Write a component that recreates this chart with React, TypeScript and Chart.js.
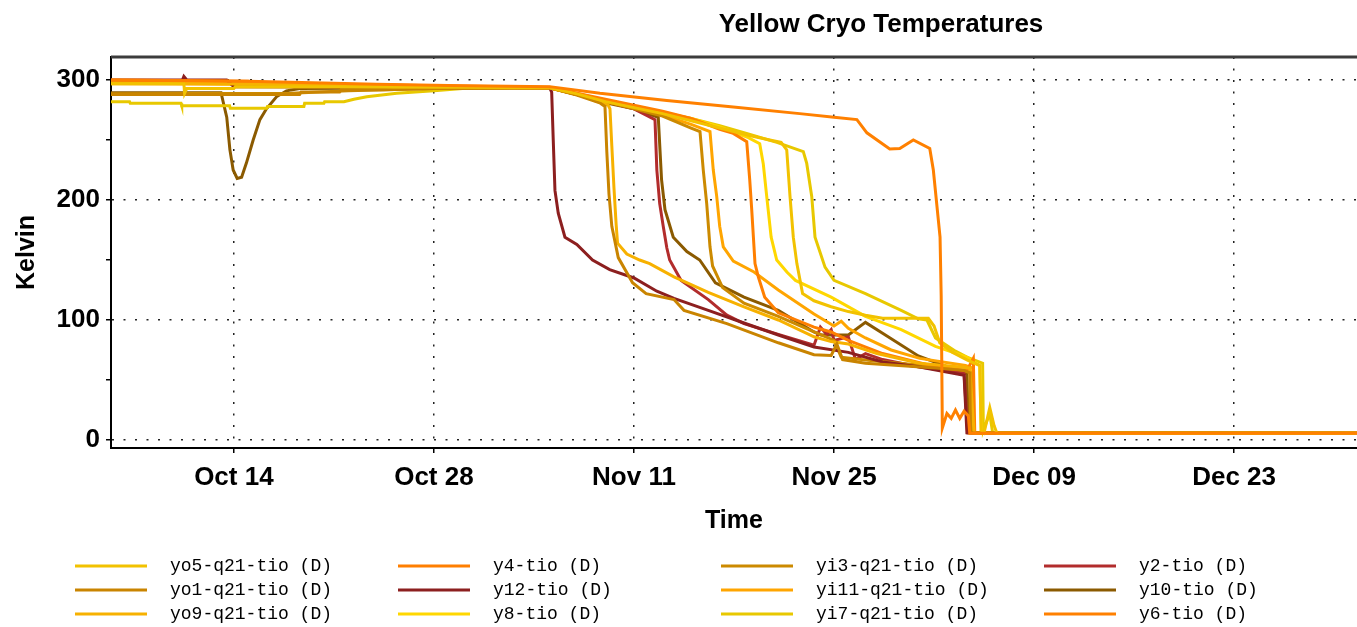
import React, { useEffect, useRef } from "react";
import { Chart, registerables } from "chart.js";

Chart.register(...registerables);

// x values are days counted from Sep 30 (so Oct 14 = 14, Nov 11 = 42, ...)
const X_MIN = 5.4;
const X_MAX = 92.6;
const Y_MIN = -6.7;
const Y_MAX = 319.2;
const X_TICK_DAYS = [14, 28, 42, 56, 70, 84];
const X_TICK_LABELS = ["Oct 14", "Oct 28", "Nov 11", "Nov 25", "Dec 09", "Dec 23"];
const Y_TICKS = [0, 50, 100, 150, 200, 250, 300];
const Y_LABELED = [0, 100, 200, 300];

const TITLE = "Yellow Cryo Temperatures";
const X_TITLE = "Time";
const Y_TITLE = "Kelvin";

const SERIES_NAMES = [
  "yo5-q21-tio (D)",
  "yo1-q21-tio (D)",
  "yo9-q21-tio (D)",
  "y4-tio (D)",
  "y12-tio (D)",
  "y8-tio (D)",
  "yi3-q21-tio (D)",
  "yi11-q21-tio (D)",
  "yi7-q21-tio (D)",
  "y2-tio (D)",
  "y10-tio (D)",
  "y6-tio (D)",
];

const SERIES_COLORS = [
  "#f2c200",
  "#c98400",
  "#f7b100",
  "#ff7f00",
  "#8c1f1f",
  "#ffd700",
  "#cc8a00",
  "#ffa500",
  "#e8c800",
  "#b22c2c",
  "#8b5a00",
  "#ff8000",
];

type P = [number, number];

const yo5: P[] = [[5.4,297],[10.5,297],[10.55,289],[10.7,293],[14,293],[14.1,294.4],[30,294],[36.1,293.5],[38,288.5],[40,282],[42,277],[44,272],[46,266],[48,260],[50,254],[51.5,250],[52.3,248],[52.69,241.7],[52.92,203],[53.15,169],[53.4,147],[53.8,122],[54.6,116],[55.8,111],[57,107],[58.2,104],[59.4,101.4],[62.6,101.4],[63,95],[63.4,81],[64.3,73],[65.3,66.7],[66.2,62],[66.3,8],[66.5,6],[66.9,27],[67.2,12],[67.4,5.5],[92.6,5.5]];
const yo1: P[] = [[5.4,288],[18.6,288],[18.7,290],[21.4,290],[21.5,291.7],[24.5,292],[28,293],[36.1,293.5],[38,287.5],[39.6,281],[39.97,278],[40.1,240],[40.25,205],[40.45,178],[40.9,152],[41.9,131],[42.85,122],[44.8,117],[45.5,108],[48.5,97],[52.1,81],[54.6,71],[55.8,70.5],[56.2,80],[56.6,67],[58.2,64],[63.1,60],[65.1,58],[65.5,56],[65.55,6],[92.6,5.5]];
const yo9: P[] = [[5.4,297.5],[12,297],[20,296],[30,294],[36.1,293.5],[38,288],[40.2,279],[40.32,276],[40.45,245],[40.6,210],[40.75,180],[40.85,164],[41.5,155],[42.4,150],[43.1,147],[44.8,136],[47.2,123],[49.7,111],[52.1,100],[54.6,86],[55.8,82],[57,80],[59,72],[62,64],[65.5,60],[65.8,6],[92.6,5.5]];
const y4: P[] = [[5.4,300],[15,299],[16,297],[24,296],[29,295],[36.1,294],[38,289],[40,284],[42,279],[44,274],[46,268],[48,259],[48.95,255.5],[49.89,248.6],[50.1,217],[50.24,192],[50.47,147],[50.7,136],[51.15,119],[52.1,106],[54.6,94],[55.8,90],[57,83],[59.4,72],[63.1,61],[65.3,58],[65.75,68],[65.85,5.5],[92.6,5.5]];
const y12: P[] = [[5.4,300],[10.4,300],[10.5,303],[10.7,300],[13.5,300],[14,294.5],[30,294],[36.1,293.5],[36.24,290],[36.35,250],[36.47,208],[36.7,189],[37.17,169],[38,163],[39.1,150],[40.3,142],[42,135],[43.6,124],[44.8,118],[47.2,108],[49.7,97.5],[52.1,87.5],[54.6,77.5],[57,73],[59.4,65],[61.9,61],[65.1,54],[65.3,6],[92.6,5.5]];
const y8: P[] = [[5.4,298],[20,296],[30,294],[36.1,293.5],[38,289],[40,283],[42,278],[44,273],[46,268],[48,261],[50,252],[50.8,247],[51.05,230],[51.29,203],[51.6,169],[51.99,150],[52.7,140],[53.3,133],[55.8,119],[58.2,103],[60.7,92],[63.1,78],[65.3,69],[66.2,62],[66.3,6],[92.6,5.5]];
const yi3: P[] = [[5.4,288.5],[18,289],[22,291],[28,293],[36.1,293.5],[38,288],[40,282],[42,276],[44,270],[46,260],[46.62,257],[46.85,225],[47.09,197],[47.32,161],[47.5,145],[48.2,127],[49.7,114],[52.1,103],[54.6,90],[56,83],[56.5,69],[58.2,66.7],[61.9,62.5],[65.1,58],[65.6,56],[65.65,6],[92.6,5.5]];
const yi11: P[] = [[5.4,297],[15,296.5],[30,294],[36.1,293.5],[38,288],[40,282],[42,277],[44,271],[46,263],[47.32,257],[47.55,225],[47.79,203],[48,178],[48.25,161],[48.95,149],[50.4,140],[52.1,125],[54.6,105],[56,95],[56.5,99],[57,93],[58.2,85],[60,75],[62,68],[65.2,62],[65.7,60],[65.75,6],[92.6,5.5]];
const yi7: P[] = [[5.4,282],[6.7,282],[6.75,280.6],[10.3,280.6],[10.35,278.6],[13.7,278.6],[13.75,276.4],[16.3,276.4],[16.35,278],[18.9,278],[18.95,280.6],[20.3,280.6],[20.35,282],[21.7,282],[22.4,284],[23.3,286],[25.4,289],[28,291],[30,293],[36.1,293.5],[38,288],[40,283],[42,278],[44,273],[46,268],[48,262],[50,255],[52,248],[53.85,240.3],[54.09,230.5],[54.44,203],[54.67,169],[55.37,144],[56,133],[58.2,122],[60.7,108],[61.9,101],[62.5,100],[63.1,85],[64.5,74],[65.3,69],[66.4,64],[66.45,8],[66.9,22],[67.1,6],[92.6,5.5]];
const y2: P[] = [[5.4,299],[20,296],[30,294],[36.1,293.5],[38,288],[40,282],[42,276],[43.47,267],[43.6,225],[43.8,197],[44.05,178],[44.3,160],[44.5,150],[45.3,133],[47.2,117],[48.5,104],[49.7,97],[52.1,88],[54.6,79],[55.05,94],[55.5,88],[55.8,92],[56,83],[57,86],[57.5,67],[58.2,72],[59.4,67],[61.9,61],[65.1,55.6],[65.35,6],[92.6,5.5]];
const y10: P[] = [[5.4,289.5],[13.1,289.5],[13.5,269],[13.72,242],[13.95,225],[14.23,218],[14.54,219],[14.88,231],[15.35,250],[15.82,267],[16.28,276],[16.98,286],[17.68,291],[18.6,293],[30,293.5],[36.1,293.5],[38,288],[39.6,282],[42,276],[43.7,269],[43.93,217],[44.17,192],[44.75,169],[45.7,157],[46.6,150],[47.7,131],[49.7,119],[52.1,108],[54.6,90],[55.1,87.5],[57,87.5],[58.2,98],[59.4,89],[61.9,70],[65.3,55],[65.4,6],[92.6,5.5]];
const y6: P[] = [[5.4,300],[15,299],[24,296.5],[29,295.5],[36.1,294.5],[39.62,289],[44.3,283],[48.95,277.5],[53.6,272],[56,269],[57.6,267],[58.3,256],[59.9,242.5],[60.6,243],[61.55,250],[62.7,243],[62.95,225],[63.42,169],[63.5,120],[63.58,10],[63.9,22],[64.2,18],[64.5,25],[64.8,18],[65.1,24],[65.4,20],[65.5,5.5],[92.6,5.5]];

const SERIES_DATA: P[][] = [yo5, yo1, yo9, y4, y12, y8, yi3, yi11, yi7, y2, y10, y6];

const SANS = '"Liberation Sans", Arial, Helvetica, sans-serif';
const MONO = '"Liberation Mono", "DejaVu Sans Mono", monospace';

const titlePlugin = {
  id: "fixedTitle",
  afterDraw(chart: any) {
    const ctx = chart.ctx;
    ctx.save();
    ctx.font = `bold 26px ${SANS}`;
    ctx.fillStyle = "#000";
    ctx.textAlign = "center";
    ctx.textBaseline = "middle";
    ctx.fillText(TITLE, 881, 25);
    // top frame line
    const a = chart.chartArea;
    ctx.strokeStyle = "#3c3c3c";
    ctx.lineWidth = 3;
    ctx.beginPath();
    ctx.moveTo(a.left, a.top);
    ctx.lineTo(a.right, a.top);
    ctx.stroke();
    ctx.restore();
  },
};

const legendPlugin = {
  id: "gridLegend",
  afterDraw(chart: any) {
    const ctx = chart.ctx;
    ctx.save();
    ctx.font = `18px ${MONO}`;
    ctx.textAlign = "left";
    ctx.textBaseline = "middle";
    chart.data.datasets.forEach((ds: any, i: number) => {
      const col = Math.floor(i / 3);
      const row = i % 3;
      const x = 75 + col * 323;
      const y = 566 + row * 24;
      ctx.strokeStyle = ds.borderColor;
      ctx.lineWidth = 3;
      ctx.beginPath();
      ctx.moveTo(x, y);
      ctx.lineTo(x + 72, y);
      ctx.stroke();
      ctx.fillStyle = "#000";
      ctx.fillText(ds.label, x + 95, y);
    });
    ctx.restore();
  },
};

export default function App() {
  const ref = useRef<HTMLCanvasElement>(null);
  useEffect(() => {
    if (!ref.current) return;
    const datasets = SERIES_NAMES.map((name, i) => ({
      label: name,
      data: SERIES_DATA[i].map(([x, y]) => ({ x, y })),
      borderColor: SERIES_COLORS[i],
      backgroundColor: SERIES_COLORS[i],
      borderWidth: 3,
      pointRadius: 0,
      tension: 0,
      fill: false,
      order: name === "y6-tio (D)" ? 0 : 1,
    }));
    const chart = new Chart(ref.current, {
      type: "line",
      data: { datasets },
      plugins: [titlePlugin, legendPlugin],
      options: {
        animation: false,
        responsive: false,
        maintainAspectRatio: false,
        devicePixelRatio: 1,
        layout: { padding: { top: 57, bottom: 87, left: 0, right: 0 } },
        plugins: {
          legend: { display: false },
          title: { display: false },
          tooltip: { enabled: false },
        },
        scales: {
          x: {
            type: "linear",
            min: X_MIN,
            max: X_MAX,
            afterBuildTicks: (axis: any) => {
              axis.ticks = X_TICK_DAYS.map((v) => ({ value: v }));
            },
            afterFit: (axis: any) => {
              axis.height = 92;
            },
            ticks: {
              autoSkip: false,
              maxRotation: 0,
              padding: 9,
              color: "#000",
              font: { family: SANS, size: 26, weight: "bold" },
              callback: (v: any) => {
                const idx = X_TICK_DAYS.indexOf(Number(v));
                return idx >= 0 ? X_TICK_LABELS[idx] : "";
              },
            },
            grid: {
              color: "#222",
              lineWidth: 1.5,
              tickLength: 5,
              tickColor: "#000",
              tickWidth: 1.5,
            },
            border: { display: true, color: "#000", width: 2, dash: [2, 9.5] },
            title: {
              display: true,
              text: X_TITLE,
              color: "#000",
              font: { family: SANS, size: 25, weight: "bold" },
              padding: { top: 0, bottom: 4 },
            },
          },
          y: {
            type: "linear",
            min: Y_MIN,
            max: Y_MAX,
            afterBuildTicks: (axis: any) => {
              axis.ticks = Y_TICKS.map((v) => ({ value: v }));
            },
            afterFit: (axis: any) => {
              axis.width = 111;
            },
            ticks: {
              autoSkip: false,
              padding: 6,
              color: "#000",
              font: { family: SANS, size: 26, weight: "bold" },
              callback: (v: any) => (Y_LABELED.includes(Number(v)) ? String(v) : ""),
            },
            grid: {
              color: (c: any) =>
                c.tick && Y_LABELED.includes(c.tick.value) ? "#222" : "rgba(0,0,0,0)",
              lineWidth: 1.5,
              tickLength: 5,
              tickColor: "#000",
              tickWidth: 1.5,
            },
            border: { display: true, color: "#000", width: 2, dash: [2, 9.5] },
            title: {
              display: true,
              text: Y_TITLE,
              color: "#000",
              font: { family: SANS, size: 25, weight: "bold" },
              padding: { top: 12, bottom: 0 },
            },
          },
        },
      } as any,
    });
    return () => chart.destroy();
  }, []);

  return (
    <div
      style={{
        position: "absolute",
        left: 0,
        top: 0,
        width: 1357,
        height: 627,
        background: "#fff",
        overflow: "hidden",
      }}
    >
      <canvas
        ref={ref}
        width={1357}
        height={627}
        style={{ display: "block", width: 1357, height: 627 }}
      />
    </div>
  );
}
